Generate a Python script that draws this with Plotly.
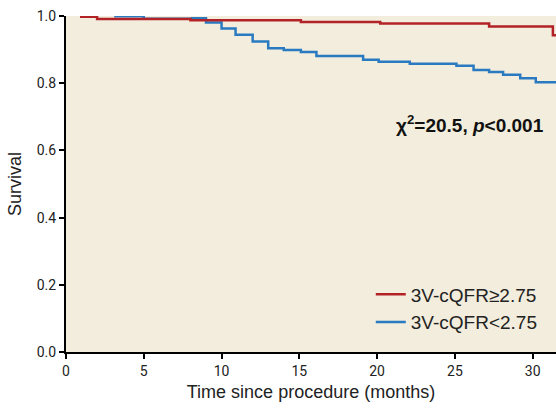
import plotly.graph_objects as go

# Kaplan-Meier step data (time in months, survival)
red_time = [0.9, 2.0, 8.0, 15.1, 20.2, 27.2, 31.3, 31.5]
red_surv = [0.998, 0.991, 0.987, 0.982, 0.978, 0.969, 0.943, 0.943]
red_name = "3V-cQFR≥2.75"

blue_time = [3.1, 5.0, 8.1, 9.0, 10.0, 10.9, 12.0, 13.0, 14.0, 15.1, 16.1,
             19.1, 20.1, 22.1, 25.1, 26.2, 27.2, 28.1, 29.2, 30.2, 31.5]
blue_surv = [0.999, 0.992, 0.993, 0.981, 0.963, 0.944, 0.924, 0.904, 0.899,
             0.893, 0.881, 0.870, 0.864, 0.858, 0.852, 0.839, 0.833, 0.825,
             0.815, 0.803, 0.803]
blue_name = "3V-cQFR<2.75"

x_ticks = [0, 5, 10, 15, 20, 25, 30]
y_ticks = [0.0, 0.2, 0.4, 0.6, 0.8, 1.0]

RED = "#B22226"
BLUE = "#2A7AC2"
BG = "#F2EDDC"
NARROW = "Roboto, Liberation Sans, sans-serif"
SANS = "Liberation Sans, Arial, sans-serif"

fig = go.Figure()
fig.add_trace(go.Scatter(x=blue_time, y=blue_surv, mode="lines", name=blue_name,
                         line=dict(color=BLUE, width=2.5, shape="hv"), legendrank=2))
fig.add_trace(go.Scatter(x=red_time, y=red_surv, mode="lines", name=red_name,
                         line=dict(color=RED, width=2.5, shape="hv"), legendrank=1))

fig.add_annotation(text="<b>χ<sup>2</sup>=20.5, <i>p</i>&lt;0.001</b>",
                   xref="paper", yref="paper", x=0.98, y=0.68,
                   xanchor="right", yanchor="middle", showarrow=False,
                   font=dict(family=SANS, size=19, color="#111111"))

fig.update_layout(
    width=556, height=408,
    margin=dict(l=66, r=0, t=16, b=56),
    paper_bgcolor="white", plot_bgcolor=BG,
    showlegend=True,
    legend=dict(x=0.622, y=0.228, xanchor="left", yanchor="top",
                bgcolor="rgba(0,0,0,0)", font=dict(family=SANS, size=19, color="#222222"),
                tracegroupgap=0, itemwidth=30),
    xaxis=dict(range=[0, 31.5], tickvals=x_ticks, showgrid=False, zeroline=False,
               showline=True, linecolor="black", linewidth=2, automargin=False,
               ticks="outside", ticklen=5, tickwidth=1.5, tickcolor="black",
               tickfont=dict(family=NARROW, size=14, color="#222222"),
               title=dict(text="Time since procedure (months)",
                          font=dict(family=SANS, size=18, color="#222222"), standoff=8)),
    yaxis=dict(range=[0, 1.0], tickvals=y_ticks, tickformat=".1f", showgrid=False,
               zeroline=False, showline=True, linecolor="black", linewidth=2, automargin=False,
               ticks="outside", ticklen=5, tickwidth=1.5, tickcolor="black",
               tickfont=dict(family=NARROW, size=14, color="#222222"),
               title=dict(text="Survival", font=dict(family=SANS, size=18, color="#222222"),
                          standoff=10)),
)

fig.write_html("out.html", config={"displayModeBar": False},
               post_script="document.body.style.margin='0';")
